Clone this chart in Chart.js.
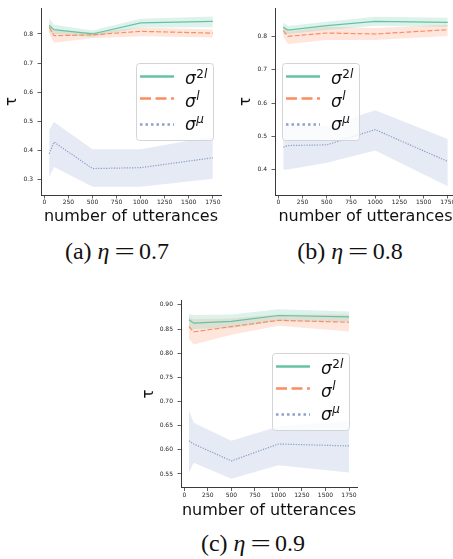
<!DOCTYPE html>
<html>
<head>
<meta charset="utf-8">
<script src="https://cdn.jsdelivr.net/npm/chart.js@4.4.0/dist/chart.umd.min.js"></script>
<style>
  html, body { margin: 0; padding: 0; background: #fff; }
  #page { position: relative; width: 453px; height: 559px; overflow: hidden; background: #fff; }
  canvas { position: absolute; display: block; }
  .cap {
    position: absolute; white-space: nowrap; transform: translateX(-50%);
    font-family: "Liberation Serif", "DejaVu Serif", serif; font-size: 24px;
    line-height: 20px; height: 20px; color: #111;
  }
  .cap i { font-style: italic; }
  .cap .eq { display: inline-block; transform: scaleX(1.5); margin: 0 8px; }
</style>
</head>
<body>
<div id="page">
  <canvas id="chartA" width="230" height="226" style="left:0px;top:0px"></canvas>
  <canvas id="chartB" width="240" height="226" style="left:230px;top:0px"></canvas>
  <canvas id="chartC" width="230" height="230" style="left:140px;top:290px"></canvas>
  <div class="cap" style="left:117px;top:241px">(a) <i>η</i><span class="eq">=</span>0.7</div>
  <div class="cap" style="left:350px;top:241px">(b) <i>η</i><span class="eq">=</span>0.8</div>
  <div class="cap" style="left:253px;top:533px">(c) <i>η</i><span class="eq">=</span>0.9</div>
</div>
<script>
// ---- data ----
const utterances = [50, 100, 500, 1000, 1750];
const xTickValues = [0, 250, 500, 750, 1000, 1250, 1500, 1750];
const seriesNames = ['σ2l', 'σl', 'σμ'];

// eta = 0.7
const a_s2l    = [0.829, 0.815, 0.800, 0.838, 0.843];
const a_s2l_lo = [0.805, 0.800, 0.790, 0.822, 0.823];
const a_s2l_hi = [0.855, 0.832, 0.812, 0.852, 0.860];
const a_sl     = [0.823, 0.794, 0.797, 0.809, 0.803];
const a_sl_lo  = [0.800, 0.770, 0.785, 0.792, 0.788];
const a_sl_hi  = [0.840, 0.812, 0.806, 0.822, 0.815];
const a_su     = [0.388, 0.428, 0.337, 0.340, 0.374];
const a_su_lo  = [0.308, 0.342, 0.274, 0.274, 0.302];
const a_su_hi  = [0.470, 0.497, 0.403, 0.403, 0.447];
const a_yTicks = [0.3, 0.4, 0.5, 0.6, 0.7, 0.8];

// eta = 0.8
const b_s2l    = [0.828, 0.820, 0.833, 0.846, 0.843];
const b_s2l_lo = [0.805, 0.808, 0.820, 0.833, 0.830];
const b_s2l_hi = [0.843, 0.832, 0.845, 0.860, 0.857];
const b_sl     = [0.818, 0.801, 0.811, 0.808, 0.821];
const b_sl_lo  = [0.800, 0.778, 0.790, 0.790, 0.802];
const b_sl_hi  = [0.838, 0.815, 0.830, 0.826, 0.836];
const b_su     = [0.467, 0.472, 0.474, 0.520, 0.424];
const b_su_lo  = [0.400, 0.400, 0.420, 0.457, 0.349];
const b_su_hi  = [0.532, 0.535, 0.530, 0.578, 0.492];
const b_yTicks = [0.4, 0.5, 0.6, 0.7, 0.8];

// eta = 0.9
const c_s2l    = [0.869, 0.862, 0.866, 0.878, 0.875];
const c_s2l_lo = [0.852, 0.850, 0.852, 0.866, 0.865];
const c_s2l_hi = [0.881, 0.879, 0.880, 0.891, 0.886];
const c_sl     = [0.855, 0.844, 0.855, 0.868, 0.864];
const c_sl_lo  = [0.830, 0.818, 0.838, 0.857, 0.845];
const c_sl_hi  = [0.875, 0.870, 0.872, 0.880, 0.880];
const c_su     = [0.619, 0.612, 0.577, 0.612, 0.608];
const c_su_lo  = [0.553, 0.573, 0.540, 0.568, 0.553];
const c_su_hi  = [0.682, 0.656, 0.619, 0.648, 0.660];
const c_yTicks = [0.55, 0.60, 0.65, 0.70, 0.75, 0.80, 0.85, 0.90];

// ---- styling ----
const GREEN = '#66c2a5', ORANGE = '#fc8d62', BLUE = '#8da0cb';
const styles = [
  { color: GREEN,  fill: 'rgba(102,194,165,0.22)', dash: [],       legendDash: [],        sup: [['2', false], ['l', true]] },
  { color: ORANGE, fill: 'rgba(252,141,98,0.22)',  dash: [5, 2],    legendDash: [11, 4.5], sup: [['l', true]] },
  { color: BLUE,   fill: 'rgba(141,160,203,0.22)', dash: [1.3, 1.3], legendDash: [2.5, 3],  sup: [['μ', true]] }
];

const pts = arr => arr.map((y, i) => ({ x: utterances[i], y }));

function seriesSets(mean, lo, hi, st) {
  return {
    band: [
      { data: pts(hi), borderWidth: 0, pointRadius: 0, fill: '+1', backgroundColor: st.fill, order: 1 },
      { data: pts(lo), borderWidth: 0, pointRadius: 0, fill: false, order: 1 }
    ],
    line: { data: pts(mean), borderColor: st.color, borderWidth: 1.2, borderDash: st.dash,
            pointRadius: 0, fill: false, order: 0 }
  };
}

// legend box drawn with mathtext-like labels
const sigmaLegend = {
  id: 'sigmaLegend',
  afterDraw(chart, args, opts) {
    const ctx = chart.ctx;
    const x = opts.x, y = opts.y, w = 77, h = 77;
    ctx.save();
    ctx.beginPath();
    ctx.roundRect(x + 0.5, y + 0.5, w, h, 3);
    ctx.fillStyle = 'rgba(255,255,255,0.8)';
    ctx.fill();
    ctx.strokeStyle = '#d4d4d4';
    ctx.lineWidth = 1;
    ctx.stroke();
    const lineY = [13.5, 35.5, 61.5];
    const baseY = [21, 43.5, 66.5];
    styles.forEach((st, i) => {
      ctx.beginPath();
      ctx.setLineDash(st.legendDash);
      ctx.strokeStyle = st.color;
      ctx.lineWidth = 2.5;
      ctx.moveTo(x + 4, y + lineY[i]);
      ctx.lineTo(x + 38, y + lineY[i]);
      ctx.stroke();
      ctx.setLineDash([]);
      ctx.fillStyle = '#111';
      ctx.textBaseline = 'alphabetic';
      ctx.textAlign = 'left';
      ctx.font = 'italic 17px "DejaVu Sans"';
      ctx.fillText('σ', x + 49, y + baseY[i]);
      let cx = x + 49 + ctx.measureText('σ').width + 0.5;
      st.sup.forEach(([t, it]) => {
        ctx.font = (it ? 'italic ' : '') + '12px "DejaVu Sans"';
        ctx.fillText(t, cx, y + baseY[i] - 6.5);
        cx += ctx.measureText(t).width;
      });
    });
    ctx.restore();
  }
};

function makePanel(id, p) {
  const sets = [
    seriesSets(p.s2l, p.s2l_lo, p.s2l_hi, styles[0]),
    seriesSets(p.sl, p.sl_lo, p.sl_hi, styles[1]),
    seriesSets(p.su, p.su_lo, p.su_hi, styles[2])
  ];
  const datasets = [];
  sets.forEach(s => datasets.push(...s.band));
  sets.forEach(s => datasets.push(s.line));
  const canvas = document.getElementById(id);
  const W = canvas.width, H = canvas.height;
  const axisCol = '#3a3a3a';
  const tickFont = { family: 'DejaVu Sans', size: 6 };
  new Chart(canvas, {
    type: 'line',
    data: { datasets },
    options: {
      responsive: false,
      animation: false,
      devicePixelRatio: 1,
      layout: { padding: { left: 0, top: p.area.top, right: W - p.area.right, bottom: 0 } },
      plugins: {
        legend: { display: false },
        tooltip: { enabled: false },
        sigmaLegend: { x: p.legend[0], y: p.legend[1] }
      },
      scales: {
        x: {
          type: 'linear', min: -35, max: 1835,
          afterBuildTicks: s => { s.ticks = xTickValues.map(v => ({ value: v })); },
          afterFit: s => { s.height = H - p.area.bottom; },
          grid: { display: true, drawOnChartArea: false, drawTicks: true, tickLength: 3.5, tickColor: axisCol, tickWidth: 0.8 },
          border: { display: true, color: axisCol, width: 1 },
          ticks: { font: tickFont, color: '#222', padding: 0.5, maxRotation: 0, autoSkip: false,
                   callback: v => String(v) },
          title: { display: true, text: 'number of utterances', color: '#111',
                   font: { family: 'DejaVu Sans', size: 16 }, padding: { top: 0, bottom: 0 } }
        },
        y: {
          type: 'linear', min: p.yRange[0], max: p.yRange[1],
          afterBuildTicks: s => { s.ticks = p.yTicks.map(v => ({ value: v })); },
          afterFit: s => { s.width = p.area.left; },
          grid: { display: true, drawOnChartArea: false, drawTicks: true, tickLength: 3.5, tickColor: axisCol, tickWidth: 0.8 },
          border: { display: true, color: axisCol, width: 1 },
          ticks: { font: tickFont, color: '#222', padding: 4.5,
                   callback: v => v.toFixed(p.decimals) },
          title: { display: true, text: 'τ', color: '#111',
                   font: { family: 'DejaVu Sans', size: 15 }, padding: { top: p.yTitlePad, bottom: 0 } }
        }
      }
    },
    plugins: [sigmaLegend]
  });
}

makePanel('chartA', {
  s2l: a_s2l, s2l_lo: a_s2l_lo, s2l_hi: a_s2l_hi,
  sl: a_sl, sl_lo: a_sl_lo, sl_hi: a_sl_hi,
  su: a_su, su_lo: a_su_lo, su_hi: a_su_hi,
  yTicks: a_yTicks, yRange: [0.246, 0.889], decimals: 1,
  area: { left: 41, top: 7, right: 221, bottom: 195 }, yTitlePad: 3.5,
  legend: [136, 63]
});
makePanel('chartB', {
  s2l: b_s2l, s2l_lo: b_s2l_lo, s2l_hi: b_s2l_hi,
  sl: b_sl, sl_lo: b_sl_lo, sl_hi: b_sl_hi,
  su: b_su, su_lo: b_su_lo, su_hi: b_su_hi,
  yTicks: b_yTicks, yRange: [0.323, 0.886], decimals: 1,
  area: { left: 45, top: 7, right: 226, bottom: 195 }, yTitlePad: 7,
  legend: [52, 63]
});
makePanel('chartC', {
  s2l: c_s2l, s2l_lo: c_s2l_lo, s2l_hi: c_s2l_hi,
  sl: c_sl, sl_lo: c_sl_lo, sl_hi: c_sl_hi,
  su: c_su, su_lo: c_su_lo, su_hi: c_su_hi,
  yTicks: c_yTicks, yRange: [0.522, 0.909], decimals: 2,
  area: { left: 41, top: 10.5, right: 217, bottom: 197.5 }, yTitlePad: 0,
  legend: [132, 63]
});
</script>
</body>
</html>
